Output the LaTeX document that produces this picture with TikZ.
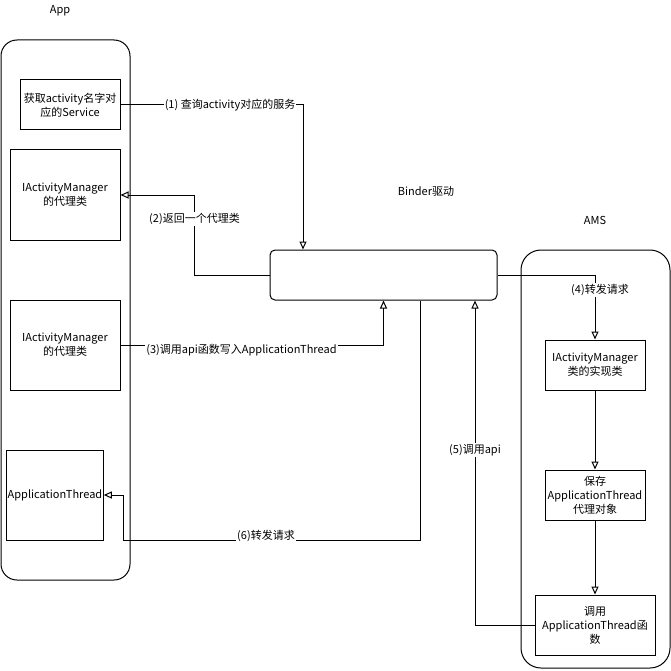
\documentclass[tikz,border=0pt]{standalone}
\usepackage{fontspec}
\setmainfont{Noto Sans CJK SC}
\usetikzlibrary{positioning, arrows.meta}

\begin{document}
\begin{tikzpicture}[
  x=1pt, y=-1pt,
  container/.style={draw, line width=1pt, rounded corners=16pt},
  box/.style={rectangle, draw, line width=1pt, align=center, inner sep=1pt, font=\fontsize{11}{14}\selectfont},
  title/.style={font=\fontsize{11}{14}\selectfont},
  flow/.style={draw, line width=1pt, -{Triangle[open, length=8pt, width=7pt]}},
  lbl/.style={fill=white, inner sep=1pt, font=\fontsize{11}{14}\selectfont},
]
\useasboundingbox (0,0) rectangle (671,671);

%%% Containers
\draw[container] (1,40) rectangle (130,580);
\draw[container, rounded corners=20pt] (521,250) rectangle (670,668);
\node[title] (app) at (60,11) {App};
\node[title] (binderlbl) at (426,191) {Binder驱动};
\node[title] (ams) at (595,220) {AMS};

%%% Nodes
\node[box, minimum width=100pt, minimum height=50pt] (service) at (70,105) {获取activity名字对\\应的Service};
\node[box, minimum width=110pt, minimum height=90pt] (proxy1) at (65,195) {IActivityManager\\的代理类};
\node[box, minimum width=110pt, minimum height=90pt] (proxy2) at (65,345) {IActivityManager\\的代理类};
\node[box, minimum width=90pt, minimum height=90pt] (thread) at (55,495) {ApplicationThread};
\node[box, rounded corners=5pt, minimum width=227pt, minimum height=50pt] (binder) at (383.5,275) {};
\node[box, minimum width=100pt, minimum height=50pt] (impl) at (595,365) {IActivityManager\\类的实现类};
\node[box, minimum width=100pt, minimum height=50pt] (keep) at (595,495) {保存\\ApplicationThread\\代理对象};
\node[box, minimum width=120pt, minimum height=60pt] (invoke) at (595,625) {调用\\ApplicationThread函\\数};

%%% Connectors
\draw[flow] (service.east) -| ([xshift=-80.5pt]binder.north)
  node[lbl, pos=0.3] {(1) 查询activity对应的服务};
\draw[flow] (binder.west) -- ++(-75,0) |- (proxy1.east)
  node[lbl, pos=0.35] {(2)返回一个代理类};
\draw[flow] (proxy2.east) -| (binder.south)
  node[lbl, pos=0.23, yshift=-5pt] {(3)调用api函数写入ApplicationThread};
\draw[flow] (binder.east) -| (impl.north)
  node[lbl, pos=0.615, xshift=5pt] {(4)转发请求};
\draw[flow] (impl) -- (keep);
\draw[flow] (keep) -- (invoke);
\draw[flow] (invoke.west) -| ([xshift=91.5pt]binder.south)
  node[lbl, pos=0.77] {(5)调用api};
\draw[flow] ([xshift=36.5pt]binder.south) -- ++(0,240)
  -| ([xshift=20pt]thread.east) node[lbl, pos=0.26, yshift=5pt] {(6)转发请求}
  -- (thread.east);

\end{tikzpicture}
\end{document}
